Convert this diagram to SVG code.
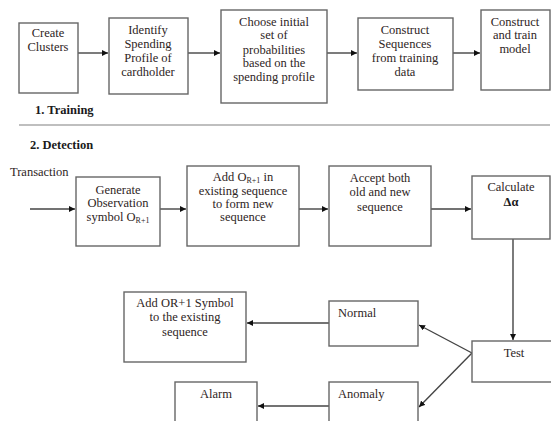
<svg xmlns="http://www.w3.org/2000/svg" width="551" height="421" viewBox="0 0 551 421" font-family="'Liberation Serif', 'Times New Roman', serif">
<style>
.box{fill:#fff;stroke:#666;stroke-width:1.4}
.t{font-family:'Liberation Serif','Times New Roman',serif;font-size:12.5px;fill:#2e2424;text-anchor:middle}
.l{text-anchor:start}
.b{font-weight:bold;fill:#1a1a1a}
.c{fill:none;stroke:#444;stroke-width:1.4}
</style>
<defs>
<marker id="ah" viewBox="0 0 8 8" refX="8" refY="4" markerWidth="6" markerHeight="6" orient="auto" markerUnits="userSpaceOnUse">
<path d="M0,0 L8,4 L0,8 z" fill="#111"/>
</marker>
</defs>
<rect width="551" height="421" fill="#fff"/>
<g id="connectors">
<line class="c" x1="78" y1="53" x2="108" y2="53" marker-end="url(#ah)"/>
<line class="c" x1="188" y1="53" x2="220" y2="53" marker-end="url(#ah)"/>
<line class="c" x1="327" y1="53" x2="357" y2="53" marker-end="url(#ah)"/>
<line class="c" x1="453" y1="53" x2="480" y2="53" marker-end="url(#ah)"/>
<line class="c" x1="30" y1="209" x2="75" y2="209" marker-end="url(#ah)"/>
<line class="c" x1="160" y1="209" x2="186" y2="209" marker-end="url(#ah)"/>
<line class="c" x1="299" y1="209" x2="328" y2="209" marker-end="url(#ah)"/>
<line class="c" x1="431" y1="209" x2="471" y2="209" marker-end="url(#ah)"/>
<line class="c" x1="513" y1="239" x2="513" y2="340" marker-end="url(#ah)"/>
<line class="c" x1="472" y1="353" x2="419" y2="325" marker-end="url(#ah)"/>
<line class="c" x1="472" y1="353" x2="419" y2="407" marker-end="url(#ah)"/>
<line class="c" x1="329" y1="323" x2="247" y2="323" marker-end="url(#ah)"/>
<line class="c" x1="329" y1="406" x2="258" y2="406" marker-end="url(#ah)"/>
</g>
<g id="create-clusters">
<rect class="box" x="19" y="23" width="59" height="70"/>
<text class="t" x="48" y="37">Create</text>
<text class="t" x="48" y="51">Clusters</text>
</g>
<g id="identify">
<rect class="box" x="109" y="18" width="79" height="76"/>
<text class="t" x="148" y="34">Identify</text>
<text class="t" x="148" y="48">Spending</text>
<text class="t" x="148" y="62">Profile of</text>
<text class="t" x="148" y="76">cardholder</text>
</g>
<g id="choose">
<rect class="box" x="221" y="10" width="106" height="93"/>
<text class="t" x="274" y="26">Choose initial</text>
<text class="t" x="274" y="39">set of</text>
<text class="t" x="274" y="54">probabilities</text>
<text class="t" x="274" y="67">based on the</text>
<text class="t" x="274" y="81">spending profile</text>
</g>
<g id="construct-sequences">
<rect class="box" x="358" y="18" width="95" height="72"/>
<text class="t" x="405" y="34">Construct</text>
<text class="t" x="405" y="48">Sequences</text>
<text class="t" x="405" y="62">from training</text>
<text class="t" x="405" y="76">data</text>
</g>
<g id="construct-model">
<rect class="box" x="481" y="10" width="69" height="80"/>
<text class="t" x="515" y="26">Construct</text>
<text class="t" x="515" y="39">and train</text>
<text class="t" x="515" y="53">model</text>
</g>
<g id="section-training">
<text class="t l b" x="35" y="114">1. Training</text>
<line x1="19" y1="125" x2="550" y2="125" stroke="#aaa" stroke-width="1.5"/>
</g>
<g id="section-detection">
<text class="t l b" x="30" y="149">2. Detection</text>
<text class="t l" x="10" y="176">Transaction</text>
</g>
<g id="generate">
<rect class="box" x="76" y="177" width="84" height="69"/>
<text class="t" x="118" y="194">Generate</text>
<text class="t" x="118" y="207">Observation</text>
<text class="t" x="118" y="221">symbol O<tspan font-size="8" dy="2">R+1</tspan></text>
</g>
<g id="add-o">
<rect class="box" x="187" y="166" width="112" height="80"/>
<text class="t" x="243" y="181">Add O<tspan font-size="8" dy="2">R+1</tspan><tspan dy="-2"> in</tspan></text>
<text class="t" x="243" y="195">existing sequence</text>
<text class="t" x="243" y="208">to form new</text>
<text class="t" x="243" y="221">sequence</text>
</g>
<g id="accept">
<rect class="box" x="329" y="166" width="102" height="80"/>
<text class="t" x="380" y="182">Accept both</text>
<text class="t" x="380" y="196">old and new</text>
<text class="t" x="380" y="211">sequence</text>
</g>
<g id="calculate">
<rect class="box" x="472" y="176" width="78" height="63"/>
<text class="t" x="511" y="191">Calculate</text>
<text class="t b" x="511" y="206">Δα</text>
</g>
<g id="test">
<rect class="box" x="472" y="341" width="82" height="41"/>
<text class="t" x="514" y="357">Test</text>
</g>
<g id="normal">
<rect class="box" x="329" y="301" width="89" height="45"/>
<text class="t l" x="338" y="317">Normal</text>
</g>
<g id="add-symbol">
<rect class="box" x="124" y="292" width="122" height="70"/>
<text class="t" x="185" y="307">Add OR+1 Symbol</text>
<text class="t" x="185" y="321">to the existing</text>
<text class="t" x="185" y="336">sequence</text>
</g>
<g id="anomaly">
<rect class="box" x="329" y="382" width="89" height="45"/>
<text class="t l" x="338" y="398">Anomaly</text>
</g>
<g id="alarm">
<rect class="box" x="175" y="382" width="82" height="45"/>
<text class="t" x="216" y="398">Alarm</text>
</g>
</svg>
